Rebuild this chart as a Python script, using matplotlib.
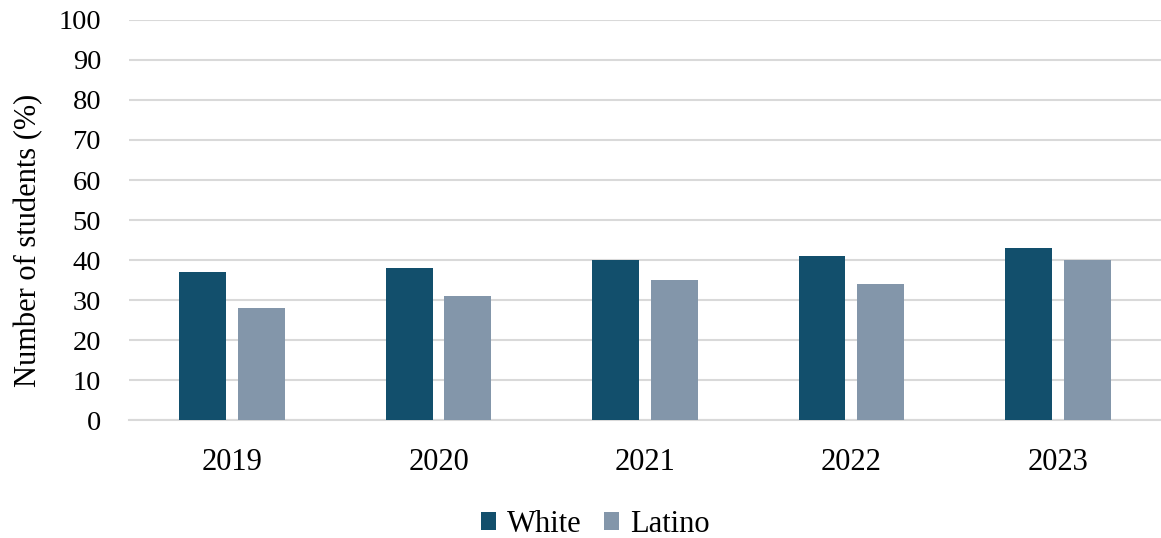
import numpy as np
import matplotlib.pyplot as plt

years = ['2019', '2020', '2021', '2022', '2023']
white = [37, 38, 40, 41, 43]
latino = [28, 31, 35, 34, 40]

plt.rcParams['font.family'] = ['Liberation Serif', 'DejaVu Serif']

fig = plt.figure(figsize=(11.61, 5.38), dpi=100)
ax = fig.add_axes([0.111, 0.219, 0.889, 0.744])

x = np.arange(len(years))
w = 0.227
off = 0.1425
ax.bar(x - off, white, w, color='#124f6c', label='White', zorder=3)
ax.bar(x + off, latino, w, color='#8396aa', label='Latino', zorder=3)

ax.set_xlim(-0.5, len(years) - 0.5)
ax.set_ylim(0, 100)
ax.set_yticks(range(0, 101, 10))
ax.set_xticks(x)
ax.set_xticklabels(years)
ax.tick_params(axis='both', length=0, colors='black')
ax.tick_params(axis='y', labelsize=20.5, pad=20)
ax.tick_params(axis='x', labelsize=22, pad=20)
ax.grid(axis='y', color='#d9d9d9', linewidth=1.5, zorder=0)
for s in ['top', 'right', 'left']:
    ax.spines[s].set_visible(False)
ax.spines['bottom'].set_color('#d9d9d9')
ax.spines['bottom'].set_linewidth(1.5)
ax.set_ylabel('Number of students (%)', fontsize=22)
ax.yaxis.set_label_coords(-0.083, 0.45)

ax.legend(loc='center', bbox_to_anchor=(0.452, -0.26), ncol=2, frameon=False,
          fontsize=22, handlelength=0.5, handleheight=0.5, handletextpad=0.35,
          columnspacing=0.74, borderpad=0)

plt.savefig('out.png', dpi=100)
